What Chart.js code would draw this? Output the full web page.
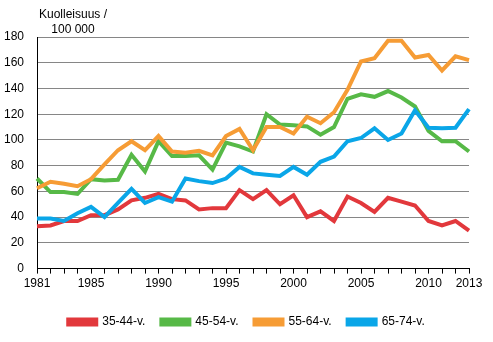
<!DOCTYPE html>
<html lang="fi">
  <head>
    <meta charset="UTF-8" />
    <title>Kuolleisuus ikäryhmittäin</title>
    <script src="https://cdn.jsdelivr.net/npm/chart.js"></script>
    <style>
      html, body { margin: 0; padding: 0; background: #fff; }
      #wrap { width: 493px; height: 342px; }
    </style>
  </head>
  <body>
    <div id="wrap"><canvas id="chart"></canvas></div>
    <script>
      // Data
      const years = [
        1981, 1982, 1983, 1984, 1985, 1986, 1987, 1988, 1989, 1990, 1991,
        1992, 1993, 1994, 1995, 1996, 1997, 1998, 1999, 2000, 2001, 2002,
        2003, 2004, 2005, 2006, 2007, 2008, 2009, 2010, 2011, 2012, 2013,
      ];
      const shownYears = [1981, 1985, 1990, 1995, 2000, 2005, 2010, 2013];
      const seriesNames = ["35-44-v.", "45-54-v.", "55-64-v.", "65-74-v."];

      const age35to44 = [
        33, 33.5, 37, 37, 41.5, 41.5, 46, 53, 55, 58, 54,
        53, 46, 47, 47, 61, 54, 61, 50, 57, 40, 44.5,
        37, 56, 51, 44, 55, 52, 49, 37, 33.5, 37, 29.5,
      ];
      const age45to54 = [
        70, 59.5, 59.5, 58, 69.5, 68.5, 69, 88.5, 75.5, 99, 87.5,
        87.5, 88, 77, 98, 95, 91, 120, 112, 111.5, 110.5, 104,
        110, 132, 135.5, 133.5, 138, 133, 126, 107, 99, 99, 91,
      ];
      const age55to64 = [
        62.5, 67.5, 66, 64, 69.5, 81, 92, 99, 92, 103, 91,
        90, 91.5, 88, 103, 108.5, 92, 110, 110, 105, 118, 113,
        121.5, 139, 161, 163.5, 177, 177, 164, 166, 154, 165, 162,
      ];
      const age65to74 = [
        39, 39, 37, 43, 48, 40, 51, 62, 51, 55.5, 52,
        70, 68, 66.5, 70, 79, 74, 73, 72, 79, 73, 83,
        87, 99, 101.5, 109, 100, 105, 123, 109.5, 109, 109.5, 124,
      ];
      const yTicks = [0, 20, 40, 60, 80, 100, 120, 140, 160, 180];

      const colors = ["#e2383c", "#57b947", "#f69c35", "#0aa6e8"];
      const allSeries = [age35to44, age45to54, age55to64, age65to74];

      Chart.defaults.font.family = "'Liberation Sans', Arial, sans-serif";
      Chart.defaults.font.size = 12;
      Chart.defaults.color = "#000";

      // y-axis title drawn above the plot, left side
      const axisTitle = {
        id: "axisTitle",
        afterDraw(chart) {
          const ctx = chart.ctx;
          const x = chart.chartArea.left + 36;
          ctx.save();
          ctx.fillStyle = "#000";
          ctx.font = "12px 'Liberation Sans', Arial, sans-serif";
          ctx.textAlign = "center";
          ctx.textBaseline = "middle";
          ctx.fillText("Kuolleisuus /", x, 15);
          ctx.fillText("100 000", x, 30);
          ctx.restore();
        },
      };

      new Chart(document.getElementById("chart"), {
        type: "line",
        data: {
          labels: years.map(String),
          datasets: allSeries.map((vals, i) => ({
            label: seriesNames[i],
            data: vals,
            borderColor: colors[i],
            backgroundColor: colors[i],
            borderWidth: 4,
            pointRadius: 0,
            tension: 0,
            fill: false,
            order: 4 - i,
          })),
        },
        options: {
          responsive: true,
          maintainAspectRatio: false,
          animation: false,
          layout: { padding: { top: 37, right: 0, left: 0, bottom: 4 } },
          plugins: {
            tooltip: { enabled: false },
            legend: {
              position: "bottom",
              labels: {
                boxWidth: 28,
                boxHeight: 5,
                padding: 16,
                sort: (a, b) => a.datasetIndex - b.datasetIndex,
              },
            },
          },
          scales: {
            x: {
              offset: false,
              grid: {
                display: true,
                drawOnChartArea: false,
                drawTicks: true,
                tickLength: 5,
                color: "#000",
              },
              border: { color: "#000", width: 1 },
              ticks: {
                autoSkip: false,
                maxRotation: 0,
                padding: 3,
                callback: function (val, idx) {
                  const y = years[idx];
                  return shownYears.includes(y) ? String(y) : "";
                },
              },
              afterFit: (axis) => {
                axis.height += 6;
              },
            },
            y: {
              min: 0,
              max: 180,
              afterBuildTicks: (axis) => {
                axis.ticks = yTicks.map((v) => ({ value: v }));
              },
              grid: { color: "#868686", drawTicks: false },
              border: { color: "#000", width: 1 },
              ticks: { padding: 13 },
              afterFit: (axis) => {
                axis.width = 37;
              },
            },
            // empty right-hand axis, only keeps room on the right
            yRight: {
              position: "right",
              display: true,
              min: 0,
              max: 180,
              grid: { drawOnChartArea: false, drawTicks: false },
              border: { display: false },
              ticks: { display: false },
              afterFit: (axis) => {
                axis.width = 24;
              },
            },
          },
        },
        plugins: [axisTitle],
      });
    </script>
  </body>
</html>
